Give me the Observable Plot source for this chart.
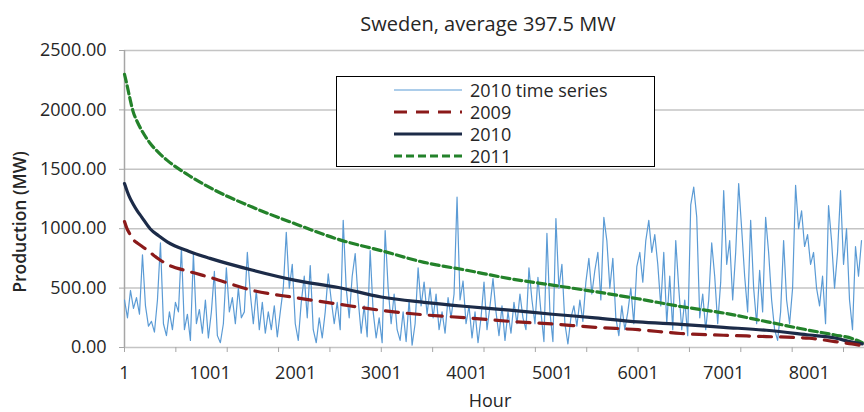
<!DOCTYPE html>
<html><head><meta charset="utf-8">
<script src="https://cdn.jsdelivr.net/npm/d3@7"></script>
<script src="https://cdn.jsdelivr.net/npm/@observablehq/plot@0.6"></script>
<style>
body{margin:0;background:#fff;}
#wrap{position:relative;width:864px;height:412px;overflow:hidden;font-family:"Open Sans",sans-serif;color:#262626;}
#title{position:absolute;left:112px;width:752px;top:14px;line-height:20px;text-align:center;font-size:20px;}
#chart{position:absolute;left:0;top:34px;}
#ylab{position:absolute;left:19px;top:222px;transform:translate(-50%,-50%) rotate(-90deg);white-space:nowrap;font-size:17.5px;font-weight:600;}
#xlab{position:absolute;left:490px;top:400px;transform:translate(-50%,-50%);font-size:18px;line-height:18px;}
#legend{position:absolute;left:336px;top:76px;width:319px;height:91px;border:1.5px solid #000;background:#fff;box-sizing:border-box;}
.row{position:absolute;left:0;height:22px;line-height:22px;font-size:18px;}
.row svg{position:absolute;left:56px;top:0;}
.row span{position:absolute;left:133px;top:0;white-space:nowrap;}
</style></head>
<body>
<div id="wrap">
  <div id="title"></div>
  <div id="chart"></div>
  <div id="ylab"></div>
  <div id="xlab"></div>
  <div id="legend"></div>
</div>
<script>
const titleText = "Sweden, average 397.5 MW";
const yLabel = "Production (MW)";
const xLabel = "Hour";
const yTicks = [0, 500, 1000, 1500, 2000, 2500];
const xLabelTicks = [1, 1001, 2001, 3001, 4001, 5001, 6001, 7001, 8001];
const xMinorTicks = [1, 601, 1201, 1801, 2401, 3001, 3601, 4201, 4801, 5401, 6001, 6601, 7201, 7801, 8401];

// 2010 hourly time series, sampled every 35 hours starting at hour 1
const tsStart = 1, tsStep = 35;
const ts2010 = [
  400,250,480,330,420,280,780,350,180,220,
  130,400,880,200,100,300,150,380,300,840,
  150,280,60,790,200,320,120,400,80,300,
  640,100,40,200,670,300,420,200,500,250,
  300,800,450,200,480,150,380,120,300,150,
  350,90,300,500,970,500,700,200,60,380,
  600,250,690,150,40,250,80,300,620,400,
  200,380,150,1070,500,250,600,790,400,120,
  350,90,815,300,80,250,40,985,500,200,
  450,150,60,300,50,400,20,200,670,350,
  550,280,500,250,450,150,300,120,420,250,
  450,1265,400,560,200,350,80,300,40,250,
  550,150,350,580,300,100,350,60,300,120,
  380,200,450,250,150,670,400,200,590,300,
  50,960,300,50,1085,500,700,200,30,250,
  350,180,400,220,550,750,450,650,800,400,
  1095,900,500,750,250,100,350,150,300,500,
  200,680,800,550,900,1070,800,950,700,350,
  800,200,600,150,900,500,150,400,100,1200,
  1350,1100,250,450,150,400,880,600,200,550,
  1320,700,900,400,800,1380,1000,600,300,1070,
  500,200,650,300,1095,800,400,150,60,300,
  900,400,200,500,1365,1000,1150,850,950,700,
  800,500,350,600,200,1195,900,500,800,1320,
  700,1000,400,150,850,600,900
];

// duration curves (sorted production), read at these hours
const durHours = [1,30,60,100,150,200,300,400,500,750,1000,1500,2000,2500,3000,3500,4000,4500,5000,5500,6000,6500,7000,7500,8000,8300,8500,8620];
const dur2009 = [1060,1000,960,910,880,855,800,745,700,641,590,480,420,365,313,275,250,220,198,170,150,118,103,92,78,50,30,15];
const dur2010 = [1380,1320,1265,1210,1150,1100,1000,940,890,810,750,650,565,505,425,380,345,315,280,250,215,195,170,145,105,80,45,30];
const dur2011 = [2300,2210,2110,1990,1900,1830,1720,1640,1575,1450,1345,1180,1040,910,815,717,650,580,525,470,410,345,290,218,145,105,76,40];

const seriesNames = ["2010 time series", "2009", "2010", "2011"];
const colors = {"2010 time series":"#5b9bd5", "2009":"#8b1a1a", "2010":"#1c2b48", "2011":"#23822a"};
const dashes = {"2010 time series":null, "2009":"13,9", "2010":null, "2011":"8,4"};
const widths = {"2010 time series":1.2, "2009":3.2, "2010":3.2, "2011":3.2};

const tsData = ts2010.map((v,i)=>({hour: tsStart + i*tsStep, value: v}));
const durTable = {"2009":dur2009, "2010":dur2010, "2011":dur2011};
const durData = name => durHours.map((h,i)=>({hour:h, value:durTable[name][i]}));

document.getElementById("title").textContent = titleText;
document.getElementById("ylab").textContent = yLabel;
document.getElementById("xlab").textContent = xLabel;

const durMark = name => Plot.line(durData(name), {x:"hour", y:"value", stroke:colors[name], strokeWidth:widths[name], strokeDasharray:dashes[name], curve:"monotone-x"});

const chart = Plot.plot({
  width: 864, height: 378,
  marginLeft: 124, marginRight: 0, marginTop: 16, marginBottom: 65,
  x: {domain: [1, 8646]},
  y: {domain: [0, 2500]},
  style: {fontFamily: "Open Sans", fontSize: "18px", color: "#262626", background: "transparent", overflow: "visible"},
  marks: [
    Plot.ruleY(yTicks, {stroke: "#c4c4c4", strokeWidth: 1.5}),
    Plot.ruleX([1], {stroke: "#a6a6a6", strokeWidth: 1.5}),
    Plot.axisY({ticks: yTicks, tickSize: 5, text: null, label: null, stroke: "#a6a6a6"}),
    Plot.axisY({ticks: yTicks, tickSize: 0, tickPadding: 18, tickFormat: d3.format(".2f"), label: null, fill: "#262626"}),
    Plot.axisX({ticks: xMinorTicks, tickSize: 5, text: null, label: null, stroke: "#a6a6a6"}),
    Plot.axisX({ticks: xLabelTicks, tickSize: 0, tickPadding: 19, tickFormat: d => String(d), label: null, fill: "#262626"}),
    Plot.lineY(tsData, {x: "hour", y: "value", stroke: colors["2010 time series"], strokeWidth: widths["2010 time series"]}),
    durMark("2011"),
    durMark("2010"),
    durMark("2009")
  ]
});
document.getElementById("chart").appendChild(chart);

const legend = document.getElementById("legend");
seriesNames.forEach((name, i) => {
  const row = document.createElement("div");
  row.className = "row";
  row.style.top = (2 + i*22) + "px";
  row.style.width = "100%";
  const dash = dashes[name] ? ` stroke-dasharray="${dashes[name]}"` : "";
  row.innerHTML = `<svg width="70" height="22"><line x1="1" x2="69" y1="11" y2="11" stroke="${colors[name]}" stroke-width="${widths[name]}"${dash}/></svg><span>${name}</span>`;
  legend.appendChild(row);
});
</script>
</body></html>
